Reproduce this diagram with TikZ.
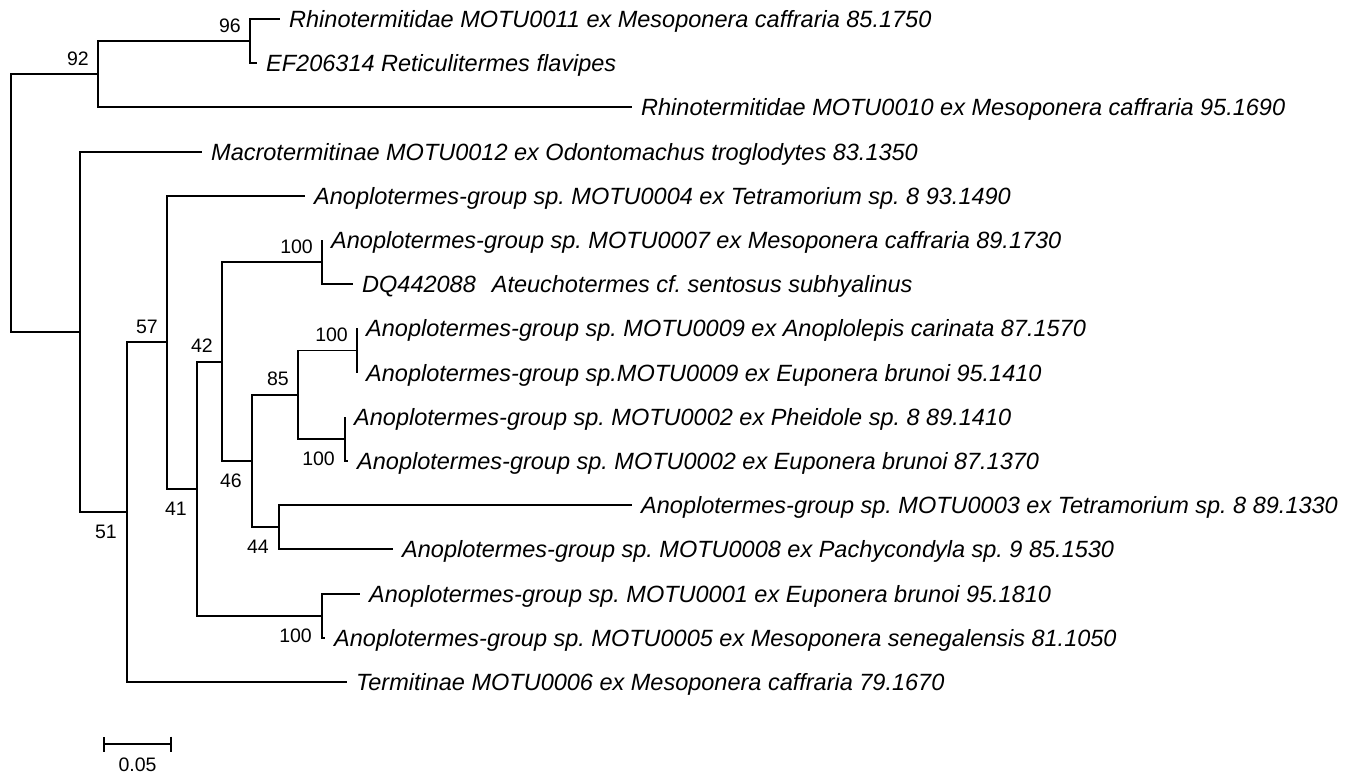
\documentclass[tikz,border=0pt]{standalone}
\usepackage{fontspec}
\setmainfont{Liberation Sans}
\usetikzlibrary{arrows.meta}

\begin{document}
\begin{tikzpicture}[x=1pt, y=-1pt,
  br/.style={line width=1.9pt},
  leaf/.style={anchor=base west, inner sep=0pt, xshift=9pt, yshift=-8.4pt,
               font=\fontsize{23.5}{28}\selectfont\itshape\frenchspacing},
  bsa/.style={anchor=base east, inner sep=0pt, xshift=-9pt, yshift=9pt,
              font=\fontsize{19.5}{23}\selectfont},
  bsb/.style={anchor=north east, inner sep=0pt, xshift=-10pt, yshift=-13pt,
              font=\fontsize{19.5}{23}\selectfont}
]
\useasboundingbox (0,0) rectangle (1357,774);

% inner nodes
\coordinate (root) at (11,203);
\coordinate (n92)  at (98,74.25);
\coordinate (n96)  at (250,41.1);
\coordinate (nB)   at (80,331.85);
\coordinate (n51)  at (127,512.1);
\coordinate (n57)  at (167,342.2);
\coordinate (n41)  at (197,488.6);
\coordinate (n42)  at (222,361.55);
\coordinate (n100a) at (322,262.1);
\coordinate (n46)  at (252,461);
\coordinate (n85)  at (298,394.7);
\coordinate (n100b) at (357,350.5);
\coordinate (n100c) at (345,438.9);
\coordinate (n44)  at (279,527.3);
\coordinate (n100d) at (322,615.7);

% tips
\coordinate (t1)  at (280,19);
\coordinate (t2)  at (257,63.2);
\coordinate (t3)  at (632,107.4);
\coordinate (t4)  at (202,151.6);
\coordinate (t5)  at (305,195.8);
\coordinate (t6)  at (322,240);
\coordinate (t7)  at (353,284.2);
\coordinate (t8)  at (357,328.4);
\coordinate (t9)  at (357,372.6);
\coordinate (t10) at (345,416.8);
\coordinate (t11) at (348,461);
\coordinate (t12) at (632,505.2);
\coordinate (t13) at (393,549.4);
\coordinate (t14) at (360,593.6);
\coordinate (t15) at (325,637.8);
\coordinate (t16) at (347,682);

\node[leaf] (l1)  at (t1)  {Rhinotermitidae MOTU0011 ex Mesoponera caffraria 85.1750};
\node[leaf] (l2)  at (t2)  {EF206314 Reticulitermes flavipes};
\node[leaf] (l3)  at (t3)  {Rhinotermitidae MOTU0010 ex Mesoponera caffraria 95.1690};
\node[leaf] (l4)  at (t4)  {Macrotermitinae MOTU0012 ex Odontomachus troglodytes 83.1350};
\node[leaf] (l5)  at (t5)  {Anoplotermes-group sp. MOTU0004 ex Tetramorium sp. 8 93.1490};
\node[leaf] (l6)  at (t6)  {Anoplotermes-group sp. MOTU0007 ex Mesoponera caffraria 89.1730};
\node[leaf] (l7)  at (t7)  {DQ442088\hspace{16pt}Ateuchotermes cf. sentosus subhyalinus};
\node[leaf] (l8)  at (t8)  {Anoplotermes-group sp. MOTU0009 ex Anoplolepis carinata 87.1570};
\node[leaf] (l9)  at (t9)  {Anoplotermes-group sp.MOTU0009 ex Euponera brunoi 95.1410};
\node[leaf] (l10) at (t10) {Anoplotermes-group sp. MOTU0002 ex Pheidole sp. 8 89.1410};
\node[leaf] (l11) at (t11) {Anoplotermes-group sp. MOTU0002 ex Euponera brunoi 87.1370};
\node[leaf] (l12) at (t12) {Anoplotermes-group sp. MOTU0003 ex Tetramorium sp. 8 89.1330};
\node[leaf] (l13) at (t13) {Anoplotermes-group sp. MOTU0008 ex Pachycondyla sp. 9 85.1530};
\node[leaf] (l14) at (t14) {Anoplotermes-group sp. MOTU0001 ex Euponera brunoi 95.1810};
\node[leaf] (l15) at (t15) {Anoplotermes-group sp. MOTU0005 ex Mesoponera senegalensis 81.1050};
\node[leaf] (l16) at (t16) {Termitinae MOTU0006 ex Mesoponera caffraria 79.1670};

% branches
\draw[br] (root) |- (n92);
\draw[br] (root) |- (nB);
\draw[br] (n92) |- (n96);
\draw[br] (n92) |- (t3);
\draw[br] (n96) |- (t1);
\draw[br] (n96) |- (t2);
\draw[br] (nB) |- (t4);
\draw[br] (nB) |- (n51);
\draw[br] (n51) |- (n57);
\draw[br] (n51) |- (t16);
\draw[br] (n57) |- (t5);
\draw[br] (n57) |- (n41);
\draw[br] (n41) |- (n42);
\draw[br] (n41) |- (n100d);
\draw[br] (n42) |- (n100a);
\draw[br] (n42) |- (n46);
\draw[br] (n100a) |- (t6);
\draw[br] (n100a) |- (t7);
\draw[br] (n46) |- (n85);
\draw[br] (n46) |- (n44);
\draw[br] (n85) |- (n100b);
\draw[br] (n85) |- (n100c);
\draw[br] (n100b) |- (t8);
\draw[br] (n100b) |- (t9);
\draw[br] (n100c) |- (t10);
\draw[br] (n100c) |- (t11);
\draw[br] (n44) |- (t12);
\draw[br] (n44) |- (t13);
\draw[br] (n100d) |- (t14);
\draw[br] (n100d) |- (t15);

% bootstrap values
\node[bsa] (b92)   at (n92)   {92};
\node[bsa] (b96)   at (n96)   {96};
\node[bsa] (b57)   at (n57)   {57};
\node[bsa] (b42)   at (n42)   {42};
\node[bsa] (b100a) at (n100a) {100};
\node[bsa] (b85)   at (n85)   {85};
\node[bsa] (b100b) at (n100b) {100};
\node[bsb] (b51)   at (n51)   {51};
\node[bsb] (b41)   at (n41)   {41};
\node[bsb] (b46)   at (n46)   {46};
\node[bsb] (b44)   at (n44)   {44};
\node[bsb] (b100c) at (n100c) {100};
\node[bsb] (b100d) at (n100d) {100};

% scale bar
\coordinate (sb0) at (103,744);
\coordinate (sb1) at (172,744);
\draw[br, {Bar[width=15pt]}-{Bar[width=15pt]}] (sb0) -- (sb1);
\node[font=\fontsize{19.5}{23}\selectfont, inner sep=0pt] (sbl) at (137.5,765) {0.05};
\end{tikzpicture}
\end{document}
